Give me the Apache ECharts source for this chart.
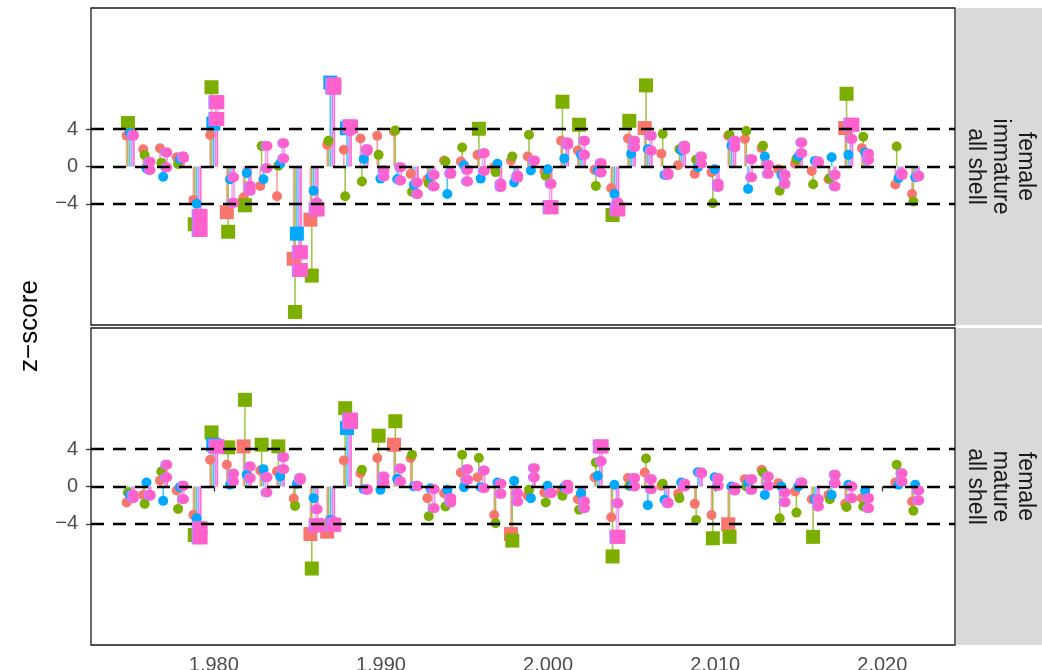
<!DOCTYPE html>
<html>
<head>
<meta charset="utf-8">
<script src="https://cdn.jsdelivr.net/npm/echarts@6.0.0/dist/echarts.min.js"></script>
<style>
html, body { margin: 0; padding: 0; background: #fff; }
#main { width: 1042px; height: 670px; }
</style>
</head>
<body>
<div id="main"></div>
<script>
// survey years (no 2020)
var years = [1975, 1976, 1977, 1978, 1979, 1980, 1981, 1982, 1983, 1984,
  1985, 1986, 1987, 1988, 1989, 1990, 1991, 1992, 1993, 1994,
  1995, 1996, 1997, 1998, 1999, 2000, 2001, 2002, 2003, 2004,
  2005, 2006, 2007, 2008, 2009, 2010, 2011, 2012, 2013, 2014,
  2015, 2016, 2017, 2018, 2019, 2021, 2022];

// female immature, all shell
var immRed = [3.3, 1.85, 1.95, 1.0, -3.58, 3.37, -4.9, -3.3, -2.08, -3.2,
  -9.9, -5.7, 2.33, 1.8, 3.0, 3.3, 3.76, -0.79, -1.36, 0.65,
  0.54, 1.25, -0.07, 0.65, 1.07, -0.54, 2.76, 1.72, -0.36, -2.33,
  3.0, 4.12, 1.36, 0.14, -0.79, -0.65, 3.3, 2.94, 1.97, -0.29,
  0.29, -0.47, -1.36, 4.12, 1.97, -1.93, -2.94];
var immOlive = [4.66, 1.23, 0.4, 0.27, -6.2, 8.5, -7.0, -4.16, 2.2, 0.07,
  -15.6, -11.7, 2.76, -3.2, -1.6, 1.25, 3.87, -2.7, -1.8, 0.54,
  2.04, 4.05, -0.6, 1.07, 3.4, -1.0, 6.95, 4.48, -2.08, -5.2,
  4.9, 8.7, 3.5, 1.86, 0.72, -3.94, 3.4, 3.8, 2.22, -2.6,
  0.79, -1.9, -1.25, 7.8, 3.2, 2.15, -3.76];
var immBlue = [3.6, -0.2, -1.1, 0.8, -4.0, 4.6, -1.36, -0.7, -1.36, 0.29,
  -7.2, -2.6, 9.0, 4.1, 0.8, -1.3, -1.36, -1.97, -1.07, -2.94,
  0.14, -1.3, 0.29, -1.72, -0.43, -0.29, 0.86, 1.25, -0.43, -2.94,
  1.36, 1.86, -0.9, 1.72, -0.07, -0.29, 2.22, -2.4, 1.07, -0.9,
  1.07, 0.6, 1.0, 1.25, 1.5, -1.25, -1.15];
var immPinkA = [3.3, 0.52, 1.5, 1.07, -5.3, 6.9, -1.15, -2.08, 2.2, 2.5,
  -9.2, -4.6, 8.8, 4.3, 1.86, -0.4, -0.07, -1.72, -0.9, -0.79,
  -0.36, 1.43, -1.86, -1.0, 0.65, -4.37, 2.58, 2.76, 0.36, -3.87,
  2.76, 3.3, -0.72, 2.22, 1.07, -1.86, 2.76, 0.79, 0.18, -0.9,
  2.58, 0.54, -0.9, 4.48, 1.36, -0.72, -1.07];
var immPinkB = [3.4, -0.37, -0.1, 0.9, -6.8, 5.1, -3.9, -2.6, -0.18, 0.86,
  -11.1, -3.9, 8.46, 3.8, 1.7, -1.07, -1.5, -2.94, -2.15, -0.7,
  -1.6, -0.47, -2.2, -1.2, 0.6, -1.86, 2.33, 1.25, -0.65, -4.6,
  2.08, 1.7, -0.9, 1.86, 0.29, -2.2, 2.08, -1.15, -0.79, -1.86,
  1.43, 0.36, -2.15, 2.94, 0.72, -0.9, -1.0];

// female mature, all shell
var matRed = [-1.72, -0.9, 0.65, -0.43, -3.05, 2.87, 2.33, 4.3, 1.72, 1.6,
  -1.3, -5.1, -4.84, 2.8, 1.43, 3.05, 4.48, 3.05, -1.25, -0.72,
  1.5, 1.0, -3.05, -5.1, -1.0, -0.65, -0.54, -1.36, 1.0, -3.3,
  0.9, 1.5, 0.07, -0.79, -1.86, -3.05, -4.05, 0.79, 1.8, 0.36,
  -0.54, -1.36, -0.9, -1.86, -1.25, 0.43, -1.6];
var matOlive = [-0.65, -1.86, 1.6, -2.4, -5.2, 5.8, 4.2, 9.3, 4.48, 4.3,
  -2.08, -8.8, -3.94, 8.4, 1.8, 5.45, 7.0, 3.4, -3.2, -2.15,
  3.4, 3.05, -3.94, -5.8, -0.36, -1.72, -1.0, -2.5, 2.58, -7.5,
  0.07, 3.0, 0.29, -1.25, -3.58, -5.55, -5.4, 0.0, 1.5, -3.4,
  -2.8, -5.4, -1.36, -2.2, -2.15, 2.33, -2.6];
var matBlue = [-0.9, 0.43, -1.54, -0.07, -3.4, 4.48, 0.18, 1.25, 1.86, 1.07,
  0.29, -1.25, -3.58, 6.27, -0.29, -0.36, 0.82, 0.0, -0.18, -0.36,
  -0.07, -0.07, 0.43, 0.6, -1.25, 0.07, -0.07, -0.72, 1.15, 0.18,
  0.05, -2.0, -1.43, 0.43, 1.54, 1.0, 0.0, 0.36, -0.9, 0.0,
  0.0, -1.36, -0.9, 0.18, -0.43, 0.18, 0.18];
var matPinkA = [-0.9, -0.9, 2.33, 0.07, -4.48, 4.3, 1.36, 2.15, 1.0, 3.15,
  0.9, -4.16, -3.76, 7.17, -0.36, 1.07, 1.93, 0.07, -0.29, -1.25,
  1.86, 1.72, -0.79, -1.6, 1.97, -0.72, 0.18, -1.6, 4.3, -5.4,
  0.9, 0.79, -1.72, 0.0, 1.5, 0.9, -0.43, 0.79, 1.07, -0.65,
  0.43, -1.36, 1.25, 0.0, -1.25, 1.43, -0.43];
var matPinkB = [-1.25, -1.0, 1.0, -1.36, -5.45, 4.3, 0.54, 0.9, -0.65, 1.86,
  0.7, -2.44, -4.1, 6.9, -0.3, 0.43, 0.54, 0.05, -2.33, -1.72,
  0.72, -0.18, 0.29, -0.72, 1.0, -0.7, -0.29, -2.33, 2.7, -1.8,
  0.0, -0.29, -1.8, 0.29, 1.4, 0.07, -0.1, -0.36, 0.07, -1.68,
  0.4, -2.15, 0.36, -1.25, -2.33, 0.54, -1.5];

var yTicks = [-4, 0, 4];
var xTicks = [1980, 1990, 2000, 2010, 2020];
var stripLabels = ['female\nimmature\nall shell', 'female\nmature\nall shell'];

var FONT = 'Liberation Sans, Arial, sans-serif';
var panelTop = [8, 328];
var panelH = 317;

var groups = [
  { color: '#F8766D', shade: null, dx: -0.22, data: [immRed, matRed] },
  { color: '#7CAE00', shade: null, dx: -0.14, data: [immOlive, matOlive] },
  { color: '#00A9FF', shade: null, dx: -0.03, data: [immBlue, matBlue] },
  { color: '#FF61CC', shade: '#C77CFF', dx: 0.21, data: [immPinkB, matPinkB] },
  { color: '#FF61CC', shade: '#C77CFF', dx: 0.21, data: [immPinkA, matPinkA] }
];

function isOut(v) { return Math.abs(v) > 4; }

var grids = [], xAxes = [], yAxes = [], series = [], graphics = [];

for (var p = 0; p < 2; p++) {
  grids.push({
    left: 91, top: panelTop[p], width: 864, height: panelH,
    outerBoundsMode: 'none', containLabel: false,
    show: true, borderColor: '#1a1a1a', borderWidth: 1.3, backgroundColor: '#fff'
  });
  xAxes.push({
    type: 'value', gridIndex: p, min: 1972.65, max: 2024.35,
    axisLine: { show: false },
    splitLine: { show: false },
    axisTick: { show: p === 1, customValues: xTicks, length: 5, lineStyle: { color: '#333', width: 1.3 } },
    axisLabel: { show: p === 1, customValues: xTicks, fontSize: 20, color: '#4D4D4D', fontFamily: FONT, margin: 10 }
  });
  yAxes.push({
    type: 'value', gridIndex: p, min: -17, max: 17,
    axisLine: { show: false },
    splitLine: { show: false },
    axisTick: { show: true, customValues: yTicks, length: 5, lineStyle: { color: '#333', width: 1.3 } },
    axisLabel: {
      customValues: yTicks, fontSize: 20, color: '#4D4D4D', fontFamily: FONT, margin: 13,
      formatter: function (v) { return String(v).replace('-', '\u2212'); }
    }
  });

  // lollipop stems
  groups.forEach(function (g) {
    var vals = g.data[p];
    series.push({
      type: 'custom', xAxisIndex: p, yAxisIndex: p, z: 1, silent: true,
      data: years.map(function (y, i) { return [y + g.dx, vals[i]]; }),
      renderItem: function (params, api) {
        var a = api.coord([api.value(0), 0]);
        var b = api.coord([api.value(0), api.value(1)]);
        var lines = [{
          type: 'line',
          shape: { x1: a[0], y1: a[1], x2: b[0], y2: b[1] },
          style: { stroke: g.color, lineWidth: 1.6, opacity: 0.7 }
        }];
        if (g.shade) {
          lines.unshift({
            type: 'line',
            shape: { x1: a[0] - 2, y1: a[1], x2: b[0] - 2, y2: b[1] },
            style: { stroke: g.shade, lineWidth: 1.6, opacity: 0.6 }
          });
        }
        return { type: 'group', children: lines };
      }
    });
  });

  // dashed reference lines at -4, 0, 4
  series.push({
    type: 'scatter', xAxisIndex: p, yAxisIndex: p, z: 2, data: [], silent: true,
    markLine: {
      silent: true, symbol: ['none', 'none'], label: { show: false },
      lineStyle: { color: '#000', width: 2.4, type: [13, 9] },
      emphasis: { disabled: true },
      data: yTicks.map(function (t) { return { yAxis: t }; })
    }
  });

  // points
  groups.forEach(function (g) {
    var vals = g.data[p];
    var style = { color: g.color, opacity: 1 };
    if (g.shade) {
      style.shadowColor = g.shade;
      style.shadowOffsetX = -2;
      style.shadowOffsetY = 0;
      style.shadowBlur = 0.01;
    }
    series.push({
      type: 'scatter', xAxisIndex: p, yAxisIndex: p, z: 3, silent: true,
      data: years.map(function (y, i) { return [y + g.dx, vals[i]]; }),
      symbol: function (v) { return isOut(v[1]) ? 'rect' : 'circle'; },
      symbolSize: function (v) { return isOut(v[1]) ? 14 : 10; },
      itemStyle: style
    });
  });

  // facet strip
  graphics.push({
    type: 'rect', left: 956, top: panelTop[p], z: 10,
    shape: { width: 86, height: panelH },
    style: { fill: '#D9D9D9' }
  });
  graphics.push({
    type: 'text', x: 1000, y: panelTop[p] + panelH / 2, rotation: -Math.PI / 2, z: 11,
    style: {
      text: stripLabels[p], fill: '#1A1A1A', font: '23px ' + FONT,
      align: 'center', verticalAlign: 'middle', lineHeight: 25
    }
  });
}

graphics.push({
  type: 'text', x: 30, y: 326, rotation: Math.PI / 2, z: 11,
  style: {
    text: 'z\u2212score', fill: '#000', font: '26px ' + FONT,
    align: 'center', verticalAlign: 'middle'
  }
});

var chart = echarts.init(document.getElementById('main'));
chart.setOption({
  animation: false,
  backgroundColor: '#fff',
  grid: grids,
  xAxis: xAxes,
  yAxis: yAxes,
  series: series,
  graphic: graphics
});
</script>
</body>
</html>
